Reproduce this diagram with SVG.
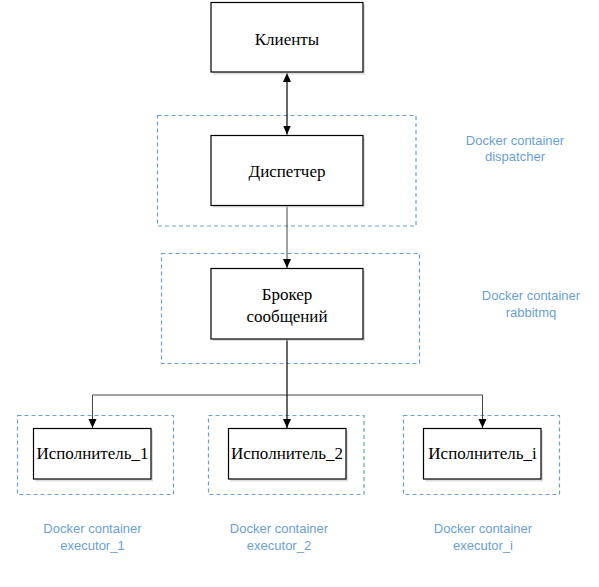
<svg xmlns="http://www.w3.org/2000/svg" width="599" height="587" viewBox="0 0 599 587">
<style>
.node{fill:#fff;stroke:#000;stroke-width:1.2}
.shadow{fill:#c8c8c8;opacity:0.6}
.cont{fill:none;stroke:#6a9fd4;stroke-width:1.2;stroke-dasharray:4 3}
.nt{font-family:"Liberation Serif","Times New Roman",serif;font-size:17px;fill:#000;text-anchor:middle}
.lbl{font-family:"Liberation Sans",Arial,sans-serif;font-size:13px;fill:#6a9fd4;text-anchor:middle}
.conn{fill:none;stroke:#000;stroke-width:1.2}
.thin{fill:none;stroke:#444;stroke-width:1}
</style>
<defs>
<marker id="ah" markerWidth="10" markerHeight="10" refX="9" refY="5" orient="auto-start-reverse" markerUnits="userSpaceOnUse">
<path d="M0,1 L9,5 L0,9 Z" fill="#000"/>
</marker>
</defs>
<g id="containers">
<rect id="c-dispatcher" class="cont" x="157.5" y="115.5" width="258.5" height="110.5"/>
<rect id="c-rabbit" class="cont" x="161.5" y="253.5" width="258" height="110"/>
<rect id="c-ex1" class="cont" x="17.5" y="415.5" width="156" height="79"/>
<rect id="c-ex2" class="cont" x="208.5" y="415.5" width="155.5" height="79"/>
<rect id="c-exi" class="cont" x="403.5" y="415.5" width="156" height="79"/>
</g>
<g id="connectors">
<line class="conn" x1="287" y1="73" x2="287" y2="134.5" marker-start="url(#ah)" marker-end="url(#ah)"/>
<line class="thin" x1="287" y1="206" x2="287" y2="268" marker-end="url(#ah)"/>
<line class="conn" x1="287" y1="339.5" x2="287" y2="395"/>
<line class="thin" x1="92.5" y1="395" x2="482.5" y2="395"/>
<line class="thin" x1="92.5" y1="395" x2="92.5" y2="428" marker-end="url(#ah)"/>
<line class="conn" x1="287" y1="395" x2="287" y2="428" marker-end="url(#ah)"/>
<line class="thin" x1="482.5" y1="395" x2="482.5" y2="428" marker-end="url(#ah)"/>
</g>
<g id="clients">
<rect class="shadow" x="213" y="4.5" width="152" height="70"/>
<rect class="node" x="211" y="2.5" width="152" height="69.5"/>
<text class="nt" x="287" y="45">Клиенты</text>
</g>
<g id="dispatcher">
<rect class="shadow" x="213" y="137.5" width="152" height="70"/>
<rect class="node" x="211" y="135.5" width="152" height="70"/>
<text class="nt" x="287" y="177">Диспетчер</text>
</g>
<g id="broker">
<rect class="shadow" x="213" y="270.5" width="152" height="70.5"/>
<rect class="node" x="211" y="268.5" width="152" height="70.5"/>
<text class="nt" x="287" y="299.5">Брокер</text>
<text class="nt" x="287" y="322">сообщений</text>
</g>
<g id="executor1">
<rect class="shadow" x="35.5" y="430.5" width="117.5" height="51"/>
<rect class="node" x="33.5" y="428.5" width="117.5" height="50.5"/>
<text class="nt" x="92.5" y="459">Исполнитель_1</text>
</g>
<g id="executor2">
<rect class="shadow" x="230.5" y="430.5" width="117.5" height="51"/>
<rect class="node" x="228.5" y="428.5" width="117.5" height="50.5"/>
<text class="nt" x="287" y="459">Исполнитель_2</text>
</g>
<g id="executori">
<rect class="shadow" x="425.5" y="430.5" width="117.5" height="51"/>
<rect class="node" x="423.5" y="428.5" width="117.5" height="50.5"/>
<text class="nt" x="482.5" y="459">Исполнитель_i</text>
</g>
<g id="labels">
<text class="lbl" x="515" y="144.5">Docker container</text>
<text class="lbl" x="515" y="161">dispatcher</text>
<text class="lbl" x="531" y="300">Docker container</text>
<text class="lbl" x="531" y="317">rabbitmq</text>
<text class="lbl" x="92.5" y="532.5">Docker container</text>
<text class="lbl" x="92.5" y="550">executor_1</text>
<text class="lbl" x="279" y="532.5">Docker container</text>
<text class="lbl" x="279" y="550">executor_2</text>
<text class="lbl" x="483" y="532.5">Docker container</text>
<text class="lbl" x="483" y="550">executor_i</text>
</g>
</svg>
